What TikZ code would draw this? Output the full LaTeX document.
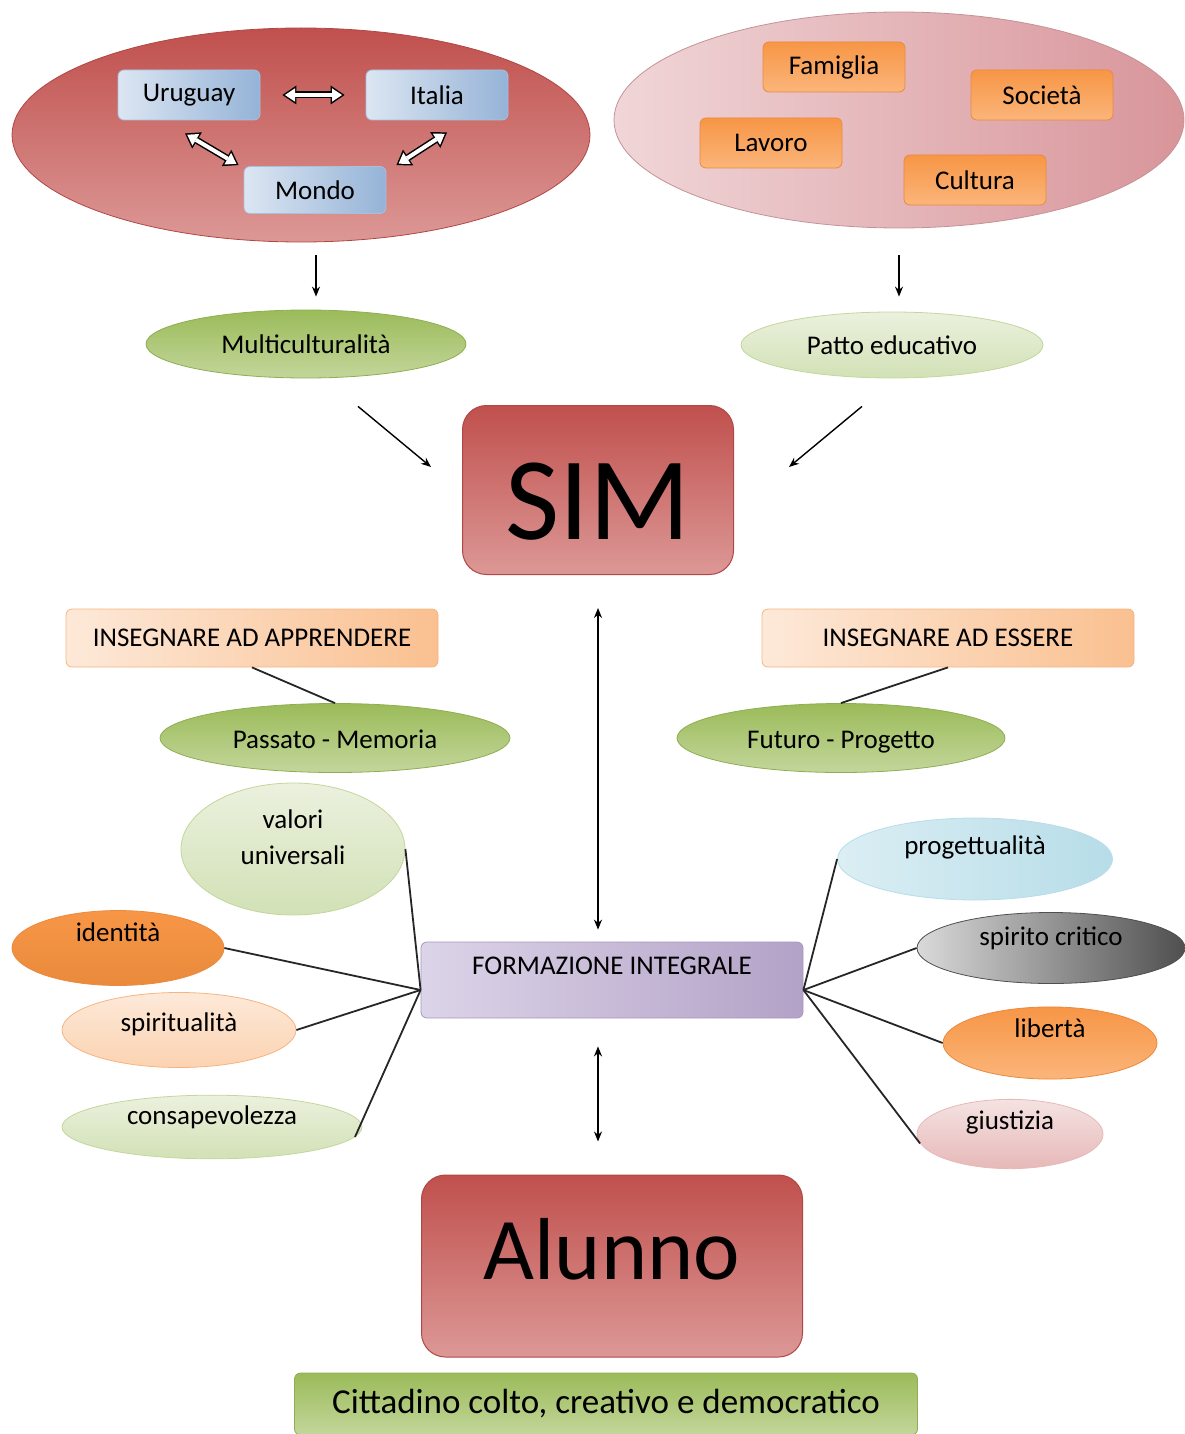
\documentclass[tikz,border=0pt]{standalone}
\usepackage{fontspec}
\setmainfont{Carlito}
\usetikzlibrary{shapes.geometric,arrows.meta}

\definecolor{RedT}{HTML}{C0504D}
\definecolor{RedB}{HTML}{DC9896}
\definecolor{RedD}{HTML}{B04744}
\definecolor{PinkL}{HTML}{F0D6D8}
\definecolor{PinkR}{HTML}{D8959A}
\definecolor{PinkD}{HTML}{C49296}
\definecolor{BluL}{HTML}{DCE6F2}
\definecolor{BluR}{HTML}{95B3D7}
\definecolor{BluD}{HTML}{A9C0DD}
\definecolor{OraT}{HTML}{F79646}
\definecolor{OraB}{HTML}{FBB57A}
\definecolor{OraD}{HTML}{E98A3C}
\definecolor{GreenT}{HTML}{9BBB59}
\definecolor{GreenB}{HTML}{C3D69B}
\definecolor{GreenD}{HTML}{8EAE50}
\definecolor{PaleT}{HTML}{EBF1DE}
\definecolor{PaleB}{HTML}{D2E1B6}
\definecolor{PaleD}{HTML}{C3D69B}
\definecolor{PeachL}{HTML}{FDE9D9}
\definecolor{PeachR}{HTML}{FAC090}
\definecolor{PeachD}{HTML}{F5B482}
\definecolor{LilaL}{HTML}{DCD4E8}
\definecolor{LilaR}{HTML}{B3A2C7}
\definecolor{LilaD}{HTML}{A897BE}
\definecolor{SkyL}{HTML}{DBEEF4}
\definecolor{SkyR}{HTML}{B7DDE8}
\definecolor{GrayL}{HTML}{DADADA}
\definecolor{GrayR}{HTML}{4F4F4F}
\definecolor{RoseT}{HTML}{F5E2E2}
\definecolor{RoseB}{HTML}{E6B9B8}

\begin{document}
\begin{tikzpicture}[x=1pt,y=-1pt,
	every node/.style={font=\fontsize{27}{33}\selectfont},
	oval/.style={shape=ellipse,line width=0.8pt,inner sep=0pt},
	tab/.style={shape=rectangle,rounded corners=6pt,line width=0.8pt,inner sep=0pt},
	paese/.style={tab,draw=BluD,left color=BluL,right color=BluR,minimum width=142pt,minimum height=50pt},
	ambito/.style={tab,draw=OraD,top color=OraT,bottom color=OraB,minimum width=142pt,minimum height=50pt},
	bigred/.style={shape=rectangle,rounded corners=24pt,line width=1pt,draw=RedD,top color=RedT,bottom color=RedB,inner sep=0pt},
	lift/.style={text height=20pt,text depth=#1},
	arr/.style={-{Stealth[length=10pt,width=8pt]},line width=1.4pt},
	twoway/.style={{Stealth[length=10pt,width=8pt]}-{Stealth[length=10pt,width=8pt]},line width=1.4pt},
	tie/.style={line width=1.8pt,black!85},
	rim/.style={line width=7pt,{Triangle[length=14pt,width=19pt,line width=0pt]}-{Triangle[length=14pt,width=19pt,line width=0pt]}},
	core/.style={white,line width=4pt,shorten <=2.6pt,shorten >=2.6pt,{Triangle[length=10pt,width=13.5pt,line width=0pt]}-{Triangle[length=10pt,width=13.5pt,line width=0pt]}}]

	\useasboundingbox (0,0) rectangle (1185,1434);

	% paesi
	\node[oval,draw=RedD,top color=RedT,bottom color=RedB,minimum width=578pt,minimum height=214pt] (mondi) at (301,135) {};
	\node[paese] (uru) at (189,95) {Uruguay};
	\node[paese] (ita) at (437,95) {Italia};
	\node[paese,minimum height=47pt] (mon) at (315,190) {Mondo};

	% ambiti
	\node[oval,draw=PinkD,left color=PinkL,right color=PinkR,minimum width=570pt,minimum height=216pt] (ambiti) at (899,120) {};
	\node[ambito] (fam) at (834,67) {Famiglia};
	\node[ambito] (soc) at (1042,95) {Società};
	\node[ambito] (lav) at (771,143) {Lavoro};
	\node[ambito] (cul) at (975,180) {Cultura};

	\node[oval,draw=GreenD,top color=GreenT,bottom color=GreenB,minimum width=320pt,minimum height=68pt] (multi) at (306,344) {Multiculturalità};
	\node[oval,draw=PaleD,top color=PaleT,bottom color=PaleB,minimum width=302pt,minimum height=66pt] (patto) at (892,345) {Patto educativo};

	\node[bigred,minimum width=271pt,minimum height=169pt,font=\fontsize{118}{118}\selectfont,text height=100pt,text depth=2pt] (sim) at (598,490) {SIM};

	\node[tab,draw=PeachD,left color=PeachL,right color=PeachR,minimum width=372pt,minimum height=58pt] (app) at (252,638) {INSEGNARE AD APPRENDERE};
	\node[tab,draw=PeachD,left color=PeachL,right color=PeachR,minimum width=372pt,minimum height=58pt] (ess) at (948,638) {INSEGNARE AD ESSERE};
	\node[oval,draw=GreenD,top color=GreenT,bottom color=GreenB,minimum width=350pt,minimum height=69pt,lift=0pt] (pass) at (335,738) {Passato - Memoria};
	\node[oval,draw=GreenD,top color=GreenT,bottom color=GreenB,minimum width=328pt,minimum height=69pt,lift=0pt] (fut) at (841,738) {Futuro - Progetto};

	\node[tab,draw=LilaD,left color=LilaL,right color=LilaR,minimum width=382pt,minimum height=76pt,lift=31pt] (form) at (612,980) {FORMAZIONE INTEGRALE};

	% valori
	\node[oval,draw=PaleD,top color=PaleT,bottom color=PaleB,minimum width=224pt,minimum height=132pt,align=center,font=\fontsize{27}{36}\selectfont,text depth=24pt] (valori) at (293,849) {valori\\universali};
	\node[oval,draw=OraD,top color=OraT,bottom color=OraD,minimum width=212pt,minimum height=73pt,lift=33pt] (ident) at (118,948) {identità};
	\node[oval,draw=PeachD,top color=PeachL,bottom color=PeachR!70,minimum width=234pt,minimum height=75pt,lift=17pt] (spirit) at (179,1030) {spiritualità};
	\node[oval,draw=PaleD,top color=PaleT,bottom color=PaleB,minimum width=300pt,minimum height=52pt,lift=25pt] (consap) at (212,1127) {consapevolezza};
	\node[oval,draw=SkyR,left color=SkyL,right color=SkyR,minimum width=275pt,minimum height=82pt,lift=29pt] (prog) at (975,859) {progettualità};
	\node[oval,draw=GrayR,left color=GrayL,right color=GrayR,minimum width=268pt,minimum height=71pt,lift=25pt] (crit) at (1051,948) {spirito critico};
	\node[oval,draw=OraD,top color=OraT,bottom color=OraB,minimum width=214pt,minimum height=71pt,lift=31pt] (lib) at (1050,1043) {libertà};
	\node[oval,draw=RoseB,top color=RoseT,bottom color=RoseB,minimum width=186pt,minimum height=52pt,lift=29pt] (giust) at (1010,1134) {giustizia};

	\node[bigred,minimum width=381pt,minimum height=182pt,font=\fontsize{88}{88}\selectfont,text height=62pt,text depth=35pt] (alunno) at (612,1266) {Alunno};
	\node[tab,draw=GreenD,top color=GreenT,bottom color=GreenB,minimum width=623pt,minimum height=62pt,font=\fontsize{35}{40}\selectfont] (citt) at (606,1404) {Cittadino colto, creativo e democratico};

	% frecce
	\coordinate (ui1) at ([shift={(22,0)}]uru.east);
	\coordinate (ui2) at ([shift={(-21,0)}]ita.west);
	\coordinate (um1) at ([shift={(-4,13)}]uru.south);
	\coordinate (um2) at ([shift={(-5,-1)}]mon.north west);
	\coordinate (im1) at ([shift={(10,12)}]ita.south);
	\coordinate (im2) at ([shift={(10,-1)}]mon.north east);
	\path[rim] (ui1) edge (ui2) (um1) edge (um2) (im1) edge (im2);
	\path[core] (ui1) edge (ui2) (um1) edge (um2) (im1) edge (im2);

	\path[arr] ([shift={(15,13)}]mondi.south) edge ([shift={(10,-13)}]multi.north);
	\path[arr] ([shift={(0,27)}]ambiti.south) edge ([shift={(7,-15)}]patto.north);
	\path[arr] ([shift={(52,28)}]multi.south) edge ([shift={(-31,-23)}]sim.west);
	\path[arr] ([shift={(-30,28)}]patto.south) edge ([shift={(55,-23)}]sim.east);
	\path[twoway] ([shift={(0,33)}]sim.south) edge ([shift={(-14,-12)}]form.north);
	\path[twoway] ([shift={(-14,28)}]form.south) edge ([shift={(-14,-33)}]alunno.north);

	\path[tie] (app.south) edge (pass.north);
	\path[tie] (ess.south) edge (fut.north);

	\coordinate (hubL) at ([shift={(0,10)}]form.west);
	\coordinate (hubR) at ([shift={(0,10)}]form.east);
	\path[tie] (hubL) edge (valori.east) edge (ident.east) edge (spirit.east) edge (consap.-4);
	\path[tie] (hubR) edge (prog.west) edge (crit.west) edge (lib.west) edge (giust.186);
\end{tikzpicture}
\end{document}
